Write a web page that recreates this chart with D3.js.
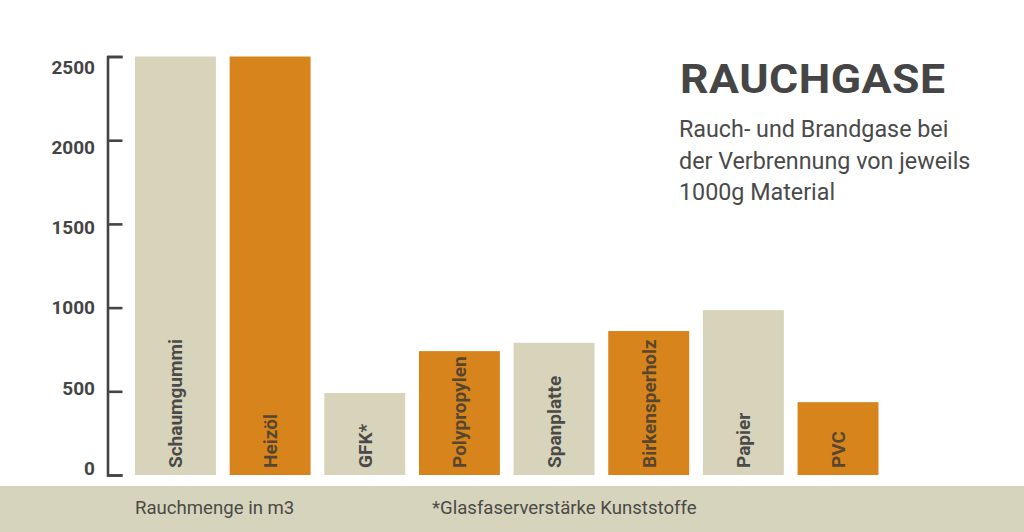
<!DOCTYPE html>
<html>
<head>
<meta charset="utf-8">
<script src="https://cdn.jsdelivr.net/npm/d3@7"></script>
<style>
  html, body { margin: 0; padding: 0; background: #ffffff; }
  svg { display: block; }
</style>
</head>
<body>
<div id="chart"></div>
<script>
const categories = ["Schaumgummi", "Heizöl", "GFK*", "Polypropylen", "Spanplatte", "Birkensperholz", "Papier", "PVC"];
const values = [2500, 2500, 490, 740, 790, 860, 985, 435];
const highlight = [false, true, false, true, false, true, false, true];
const yTicks = [0, 500, 1000, 1500, 2000, 2500];
const titleText = "RAUCHGASE";
const subtitleLines = ["Rauch- und Brandgase bei", "der Verbrennung von jeweils", "1000g Material"];
const unitText = "Rauchmenge in m3";
const footnoteText = "*Glasfaserverstärke Kunststoffe";

const W = 1024, H = 532;
const BEIGE = "#d8d4bc", ORANGE = "#d7841c", TEXT = "#454545";

const svg = d3.select("#chart").append("svg").attr("width", W).attr("height", H);

// bottom band
svg.append("rect").attr("x", 0).attr("y", 486).attr("width", W).attr("height", H - 486).attr("fill", "#d7d4bd");

const x = d3.scaleBand().domain(categories).range([135, 878.5]).paddingInner(0.145).paddingOuter(0);
const y = d3.scaleLinear().domain([0, 2500]).range([475, 56.5]);
const yLabel = d3.scaleLinear().domain([0, 2500]).range([468, 67]);

// axis (ticks only)
const axis = d3.axisRight(y).tickValues(yTicks).tickSize(15).tickSizeOuter(15).tickFormat("");
const gAxis = svg.append("g").attr("transform", "translate(107.5,0)").call(axis);
gAxis.select(".domain").attr("stroke", "#444").attr("stroke-width", 2.6);
gAxis.selectAll(".tick line").attr("stroke", "#444").attr("stroke-width", 2.6);

// tick labels
svg.append("g").selectAll("text").data(yTicks).join("text")
  .attr("x", 95).attr("y", d => yLabel(d)).attr("dy", "0.36em")
  .attr("text-anchor", "end")
  .attr("font-family", "Roboto, sans-serif")
  .attr("font-weight", "bold").attr("font-size", 19)
  .attr("fill", TEXT).text(d => d);

// bars
svg.append("g").selectAll("rect").data(categories).join("rect")
  .attr("x", d => x(d)).attr("width", x.bandwidth())
  .attr("y", (d, i) => y(values[i])).attr("height", (d, i) => y(0) - y(values[i]))
  .attr("fill", (d, i) => highlight[i] ? ORANGE : BEIGE);

// bar labels
svg.append("g").selectAll("text").data(categories).join("text")
  .attr("transform", d => `translate(${x(d) + x.bandwidth() / 2},468) rotate(-90)`)
  .attr("dy", "0.36em")
  .attr("font-family", "Roboto, sans-serif")
  .attr("font-weight", "bold").attr("font-size", 19)
  .attr("fill", (d, i) => highlight[i] ? "#57462f" : "#4a4a48")
  .text(d => d);

// title (slightly widened to mimic the condensed-bold display face)
svg.append("text")
  .attr("transform", "translate(680,93) scale(1.1,1)")
  .attr("font-family", "Roboto, sans-serif").attr("font-weight", "bold")
  .attr("font-size", 40.5).attr("fill", TEXT)
  .attr("textLength", 241).attr("lengthAdjust", "spacing")
  .text(titleText);

// subtitle
svg.append("g").selectAll("text").data(subtitleLines).join("text")
  .attr("x", 679).attr("y", (d, i) => 137 + i * 31.5)
  .attr("font-family", "Roboto, sans-serif").attr("font-size", 23.3)
  .attr("fill", "#4a4a4a").text(d => d);

// band texts
svg.append("text").attr("x", 135).attr("y", 514)
  .attr("font-family", "Roboto, sans-serif").attr("font-size", 18.6)
  .attr("fill", "#4a4a46").text(unitText);
svg.append("text").attr("x", 432).attr("y", 514)
  .attr("font-family", "Roboto, sans-serif").attr("font-size", 18.6)
  .attr("fill", "#4a4a46").text(footnoteText);
</script>
</body>
</html>
